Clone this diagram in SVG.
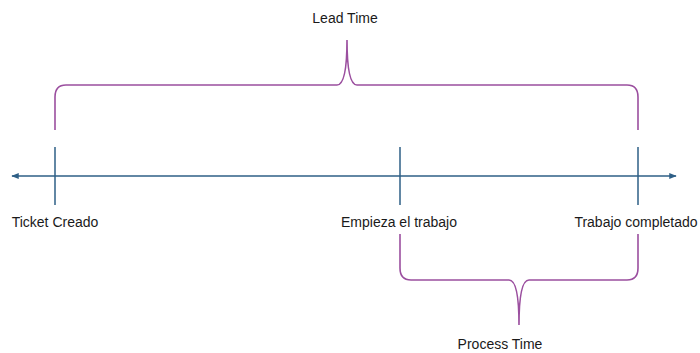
<svg xmlns="http://www.w3.org/2000/svg" width="700" height="353" viewBox="0 0 700 353">
<style>
.brace{fill:none;stroke:#9b4f9f;stroke-width:1.6;}
.axis{fill:none;stroke:#2e5f86;stroke-width:1.5;}
.lbl{font-family:"Liberation Sans",Arial,sans-serif;font-size:14px;fill:#1a1a1a;text-anchor:middle;}
</style>
<defs>
<marker id="ah" viewBox="0 0 10 10" refX="9" refY="5" markerWidth="5" markerHeight="5" orient="auto-start-reverse">
<path d="M0,1 L10,5 L0,9 z" fill="#2e5f86"/>
</marker>
</defs>
<rect width="700" height="353" fill="#ffffff"/>
<g id="connectors">
<path class="axis" d="M12,176 L676,176" marker-start="url(#ah)" marker-end="url(#ah)"/>
<path class="axis" d="M55,147 L55,205"/>
<path class="axis" d="M400,147 L400,205"/>
<path class="axis" d="M638,147 L638,205"/>
</g>
<g id="lead-brace">
<path class="brace" d="M55,130 L55,97 Q55,85 66,85 L337,85 Q347,85 347,40 Q347,85 357,85 L627,85 Q638,85 638,97 L638,130"/>
<text class="lbl" x="345" y="23">Lead Time</text>
</g>
<g id="process-brace">
<path class="brace" d="M400,234 L400,268 Q400,280 411,280 L509,280 Q519,280 519,325 Q519,280 529,280 L627,280 Q638,280 638,268 L638,234"/>
<text class="lbl" x="500" y="349">Process Time</text>
</g>
<g id="ticket-creado"><text class="lbl" x="55" y="227">Ticket Creado</text></g>
<g id="empieza"><text class="lbl" x="399" y="227">Empieza el trabajo</text></g>
<g id="completado"><text class="lbl" x="636" y="227">Trabajo completado</text></g>
</svg>
